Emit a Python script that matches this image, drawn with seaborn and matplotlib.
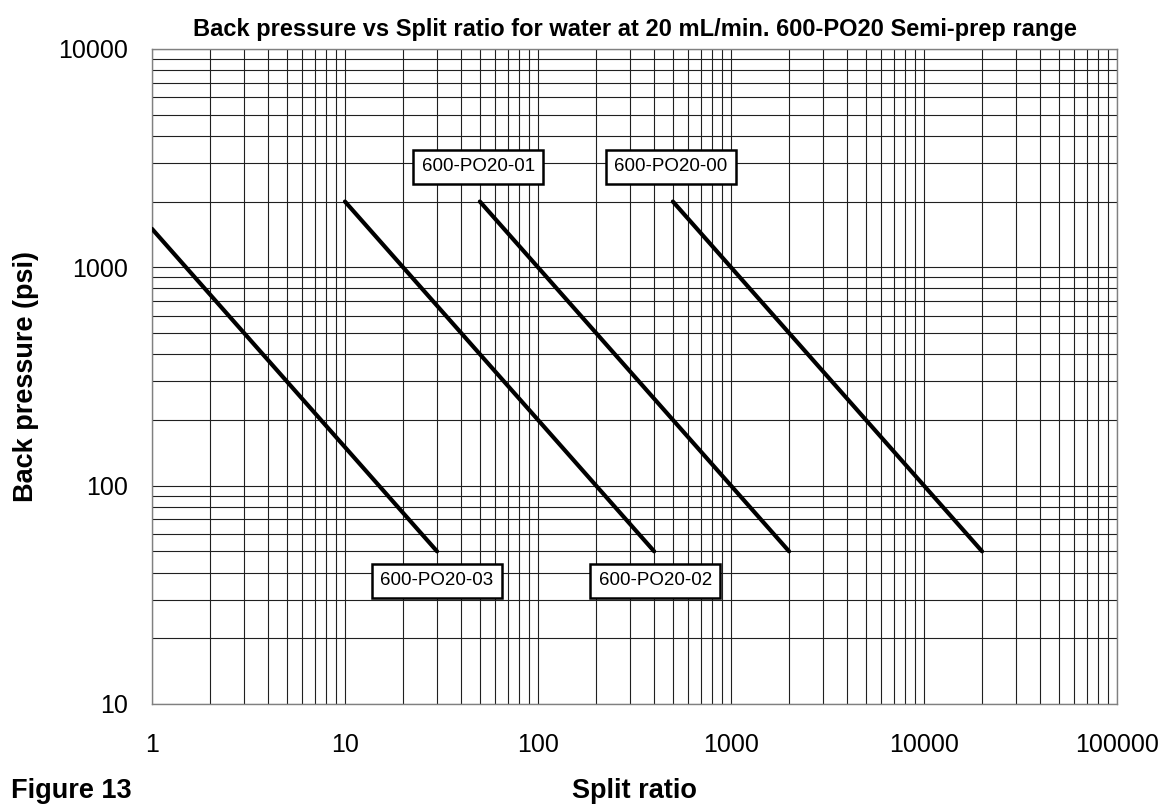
import matplotlib
matplotlib.use("Agg")
import matplotlib.pyplot as plt
import matplotlib.ticker as mticker
import numpy as np
import pandas as pd
import seaborn as sns

# Data (log-log, slope -1 lines)
series = ['600-PO20-03', '600-PO20-02', '600-PO20-01', '600-PO20-00']
split_start = [1, 10, 50, 500]
split_end = [30, 400, 2000, 20000]
bp_start = [1500, 2000, 2000, 2000]
bp_end = [50, 50, 50, 50]

x_ticks = [1, 10, 100, 1000, 10000, 100000]
y_ticks = [10, 100, 1000, 10000]

# label box centres (data coords)
label_x = [30, 405, 49, 488]
label_y = [36.6, 36.6, 2880, 2880]

sns.set_style('white')
plt.rcParams['font.family'] = ['Liberation Sans', 'DejaVu Sans']
plt.rcParams['text.color'] = 'black'
plt.rcParams['axes.labelcolor'] = 'black'
plt.rcParams['xtick.color'] = 'black'
plt.rcParams['ytick.color'] = 'black'

rows = []
for s, x0, x1, y0, y1 in zip(series, split_start, split_end, bp_start, bp_end):
    rows.append({'series': s, 'split': x0, 'bp': y0})
    rows.append({'series': s, 'split': x1, 'bp': y1})
df = pd.DataFrame(rows)

fig = plt.figure(figsize=(11.69, 8.06), dpi=100)
ax = fig.add_axes([0.1300, 0.1266, 0.8255, 0.8127])

ax.set_xscale('log')
ax.set_yscale('log')
ax.set_xlim(1, 100000)
ax.set_ylim(10, 10000)

# grid
ax.grid(True, which='both', color='#202020', linewidth=0.8)
ax.set_axisbelow(True)

sns.lineplot(data=df, x='split', y='bp', hue='series', units='series',
             estimator=None, palette=['black'] * 4, linewidth=3,
             legend=False, ax=ax, zorder=3)

ax.xaxis.set_major_locator(mticker.FixedLocator(x_ticks))
ax.yaxis.set_major_locator(mticker.FixedLocator(y_ticks))
ax.xaxis.set_major_formatter(mticker.FuncFormatter(lambda v, p: f'{int(round(v))}'))
ax.yaxis.set_major_formatter(mticker.FuncFormatter(lambda v, p: f'{int(round(v))}'))
ax.xaxis.set_minor_locator(mticker.LogLocator(base=10, subs=np.arange(2, 10)))
ax.yaxis.set_minor_locator(mticker.LogLocator(base=10, subs=np.arange(2, 10)))
ax.xaxis.set_minor_formatter(mticker.NullFormatter())
ax.yaxis.set_minor_formatter(mticker.NullFormatter())
ax.tick_params(which='major', direction='out', width=1, color='#404040',
               labelsize=18)
ax.tick_params(axis='x', which='major', length=7, pad=14)
ax.tick_params(axis='y', which='major', length=7, pad=10)
ax.tick_params(which='minor', length=0)

for sp in ax.spines.values():
    sp.set_color('#808080')
    sp.set_linewidth(1)

for s, lx, ly in zip(series, label_x, label_y):
    ax.text(lx, ly, s, ha='center', va='center', fontsize=13.5, zorder=5,
            bbox=dict(boxstyle='square,pad=0.45', fc='white', ec='black', lw=1.8))

ax.set_title('Back pressure vs Split ratio for water at 20 mL/min. 600-PO20 Semi-prep range',
             fontsize=17, fontweight='bold', pad=9)
ax.set_xlabel('Split ratio', fontsize=19.5, fontweight='bold', labelpad=15)
ax.set_ylabel('Back pressure (psi)', fontsize=19.5, fontweight='bold', labelpad=14)
fig.text(0.009, 0.003, 'Figure 13', fontsize=19.5, fontweight='bold', ha='left', va='bottom')

fig.savefig('out.png', dpi=100)
